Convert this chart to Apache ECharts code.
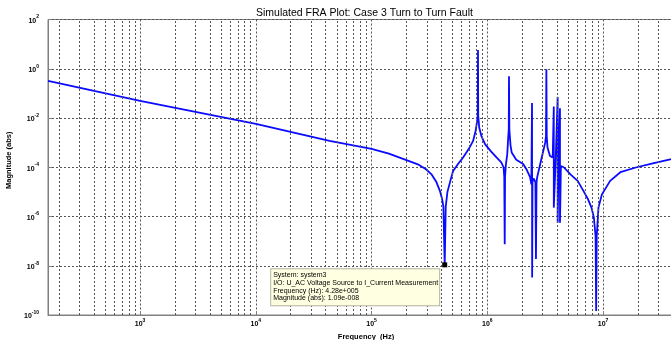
<!DOCTYPE html>
<html>
<head>
<meta charset="utf-8">
<script src="https://cdn.jsdelivr.net/npm/echarts@6/dist/echarts.min.js"></script>
<style>
  html, body { margin: 0; padding: 0; background: #fff; }
  #chart { width: 671px; height: 340px; }
</style>
</head>
<body>
<div id="chart"></div>
<script>
// frequency (Hz) and magnitude (abs)
const freq = [
  1.6e2, 1e3, 1e4, 4.33e4, 1e5, 1.41e5, 2.0e5, 2.51e5, 2.95e5, 3.31e5, 3.63e5, 3.89e5, 4.07e5, 4.17e5,
  4.28e5, 4.37e5, 4.52e5, 4.79e5, 5.06e5, 5.62e5, 6.17e5, 6.92e5, 7.53e5, 7.94e5, 8.17e5, 8.26e5,
  8.30e5, 8.34e5, 8.51e5, 8.91e5, 9.55e5, 1.07e6, 1.2e6, 1.32e6, 1.38e6, 1.40e6,
  1.413e6, 1.422e6, 1.445e6, 1.486e6, 1.514e6, 1.531e6, 1.538e6, 1.549e6, 1.585e6, 1.622e6,
  1.778e6, 2.04e6, 2.19e6, 2.34e6, 2.40e6, 2.432e6, 2.438e6, 2.455e6, 2.51e6, 2.60e6,
  2.63e6, 2.66e6, 2.69e6, 2.82e6, 3.02e6, 3.16e6, 3.21e6, 3.236e6, 3.26e6, 3.31e6, 3.47e6,
  3.67e6, 3.75e6, 3.752e6, 3.89e6, 4.05e6, 4.052e6, 4.12e6, 4.24e6, 4.242e6, 4.32e6,
  4.57e6, 5.25e6, 6.03e6, 6.76e6, 7.41e6, 7.94e6, 8.32e6, 8.61e6, 8.71e6, 8.81e6, 9.12e6,
  9.77e6, 1.15e7, 1.41e7, 1.95e7, 2.69e7, 3.8e7, 5e7
];
const mag = [
  3.2e-1, 5.0e-2, 5.75e-3, 1.17e-3, 5.6e-4, 3.55e-4, 1.95e-4, 1.32e-4, 8.3e-5, 5.0e-5, 2.5e-5, 1.1e-5, 5.0e-6, 2.5e-6,
  1.09e-8, 2.5e-6, 1.0e-5, 2.8e-5, 7.1e-5, 1.41e-4, 2.5e-4, 5.6e-4, 1.17e-3, 3.2e-3, 7.9e-3, 1.26e-2,
  5.75, 1.26e-2, 4.0e-3, 1.78e-3, 8.7e-4, 4.5e-4, 2.5e-4, 1.58e-4, 1.0e-4, 4.0e-5,
  7.4e-8, 4.0e-5, 1.26e-4, 3.4e-4, 1.6e-3, 3.5e-3, 0.5, 3.5e-3, 7.9e-4, 4.0e-4,
  2.0e-4, 1.35e-4, 7.9e-5, 4.0e-5, 2.0e-5, 4.1e-2, 3.3e-9, 2.5e-5, 3.5e-5, 2.5e-5,
  1.9e-8, 2.5e-5, 3.8e-5, 1.0e-4, 4.0e-4, 1.0e-3, 1.78e-3, 0.95, 1.78e-3, 6.3e-4, 2.9e-4,
  2.5e-4, 2.9e-2, 2.3e-6, 1.78e-4, 7.2e-2, 5.6e-7, 1.58e-4, 2.5e-2, 5.6e-7, 1.12e-4,
  1.0e-4, 5.0e-5, 2.8e-5, 1.1e-5, 5.0e-6, 2.3e-6, 9.1e-7, 1.58e-7, 1.45e-10, 1.58e-7, 2.3e-6,
  7.9e-6, 2.8e-5, 6.3e-5, 1.0e-4, 1.45e-4, 2.1e-4, 2.8e-4
];
// minor grid lines of the log frequency axis
const minorTicks = [
  2e2, 3e2, 4e2, 5e2, 6e2, 7e2, 8e2, 9e2,
  2e3, 3e3, 4e3, 5e3, 6e3, 7e3, 8e3, 9e3,
  2e4, 3e4, 4e4, 5e4, 6e4, 7e4, 8e4, 9e4,
  2e5, 3e5, 4e5, 5e5, 6e5, 7e5, 8e5, 9e5,
  2e6, 3e6, 4e6, 5e6, 6e6, 7e6, 8e6, 9e6,
  2e7, 3e7, 4e7
];
const datatip = { f: 4.28e5, m: 1.09e-8 };
const datatipLines = [
  'System: system3',
  'I/O: U_AC Voltage Source to I_Current Measurement',
  'Frequency (Hz): 4.28e+005',
  'Magnitude (abs): 1.09e-008'
];

const FONT = '"Liberation Sans", Arial, sans-serif';

const pow10Label = v => {
  const l = Math.log10(v);
  const e = Math.round(l);
  if (Math.abs(l - e) > 1e-6) return '';
  return '{b|10}{s|' + e + '}';
};
const powRich = {
  b: { fontSize: 7, fontWeight: 'bold', fontFamily: FONT, color: '#000', verticalAlign: 'bottom', lineHeight: 10 },
  s: { fontSize: 5, fontWeight: 'bold', fontFamily: FONT, color: '#000', verticalAlign: 'top', lineHeight: 10 }
};
const gridLine = { show: true, lineStyle: { color: '#555', type: [2, 2], width: 1 } };

const chart = echarts.init(document.getElementById('chart'), null, { renderer: 'canvas' });

chart.setOption({
  animation: false,
  backgroundColor: '#fff',
  title: {
    text: 'Simulated FRA Plot: Case 3 Turn to Turn Fault',
    left: 251,
    top: 3,
    textStyle: { fontFamily: FONT, fontSize: 10.5, fontWeight: 'normal', color: '#000' }
  },
  grid: {
    left: 48, top: 19.5, width: 636, height: 295.5,
    containLabel: false,
    outerBoundsMode: 'none',
    show: true, borderColor: '#808080', borderWidth: 1
  },
  xAxis: {
    type: 'log',
    logBase: 10,
    min: 160,
    max: 5e7,
    name: 'Frequency  (Hz)',
    nameLocation: 'middle',
    nameGap: 18,
    nameTextStyle: { fontFamily: FONT, fontSize: 7.5, fontWeight: 'bold', color: '#000' },
    axisLine: { lineStyle: { color: '#808080' } },
    axisTick: { inside: true, length: 4, lineStyle: { color: '#808080' } },
    axisLabel: { formatter: pow10Label, rich: powRich, margin: 3, showMinLabel: false, showMaxLabel: false },
    splitLine: gridLine
  },
  yAxis: {
    type: 'log',
    logBase: 10,
    min: 1e-10,
    max: 1e2,
    interval: 2,
    name: 'Magnitude (abs)',
    nameLocation: 'middle',
    nameGap: 30,
    nameRotate: 90,
    nameTextStyle: { fontFamily: FONT, fontSize: 7.5, fontWeight: 'bold', color: '#000', padding: [0, 0, 0, 14] },
    axisLine: { lineStyle: { color: '#808080' } },
    axisTick: { inside: true, length: 4, lineStyle: { color: '#808080' } },
    axisLabel: { formatter: pow10Label, rich: powRich, margin: 9 },
    splitLine: gridLine
  },
  series: [
    {
      name: 'minor grid',
      type: 'line',
      data: [],
      z: 1,
      silent: true,
      markLine: {
        silent: true,
        symbol: 'none',
        label: { show: false },
        lineStyle: { color: '#555', type: [2, 2], width: 1 },
        data: minorTicks.map(v => ({ xAxis: v }))
      }
    },
    {
      name: 'FRA',
      type: 'line',
      z: 3,
      showSymbol: false,
      symbol: 'none',
      lineStyle: { color: '#0a0aff', width: 1.8 },
      data: freq.map((f, i) => [f, mag[i]]),
      markPoint: {
        symbol: 'rect',
        symbolSize: 5,
        itemStyle: { color: '#000' },
        data: [{
          coord: [datatip.f, datatip.m],
          label: {
            show: true,
            position: [-171, 7],
            formatter: datatipLines.join('\n'),
            fontFamily: FONT,
            fontSize: 7,
            lineHeight: 7.7,
            color: '#000',
            backgroundColor: '#ffffe1',
            borderColor: '#b4b4a0',
            borderWidth: 1,
            padding: [2, 3, 3, 2],
            width: 163
          }
        }]
      }
    }
  ]
});
</script>
</body>
</html>
